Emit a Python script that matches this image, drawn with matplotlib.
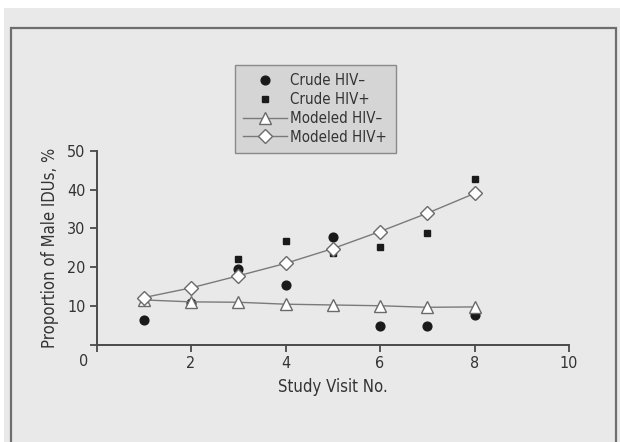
import matplotlib
matplotlib.use("Agg")
import matplotlib.pyplot as plt
import matplotlib.patches as mpatches
import matplotlib.transforms as mtransforms

plt.rcParams['font.family'] = ['DejaVu Sans']
plt.rcParams['font.stretch'] = 'condensed'

visits = [1, 2, 3, 4, 5, 6, 7, 8]
crude_neg = [6.4, 10.8, 19.5, 15.4, 27.7, 5.0, 4.9, 7.8]
crude_pos = [11.1, 10.5, 22.2, 26.7, 23.6, 25.1, 28.9, 42.6]
model_neg = [11.6, 11.1, 11.0, 10.5, 10.3, 10.1, 9.7, 9.8]
model_pos = [12.2, 14.7, 17.8, 21.0, 24.8, 29.2, 33.9, 39.0]

xticks = [0, 2, 4, 6, 8, 10]
yticks = [0, 10, 20, 30, 40, 50]

W, H = 620, 442
fig = plt.figure(figsize=(W / 100, H / 100), dpi=100, facecolor='white')

bg = '#e9e9e9'
txt = '#333333'
grey_line = '#7a7a7a'

# scanned grey page background and frame
fig.patches.append(mpatches.Rectangle((4 / W, 0), 1, 1 - 8 / H, transform=fig.transFigure,
                                      facecolor=bg, edgecolor='none', zorder=-10))
fig.patches.append(mpatches.Rectangle((10.5 / W, -0.05), (616 - 10.5) / W, 1.05 - 28 / H,
                                      transform=fig.transFigure, facecolor='none',
                                      edgecolor='#6e6e6e', linewidth=1.6, zorder=-5))

ax = fig.add_axes([96.5 / W, (H - 345) / H, 472.5 / W, 194.3 / H])
ax.set_facecolor('none')
ax.set_xlim(0, 10)
ax.set_ylim(0, 50)

ax.plot(visits, crude_neg, linestyle='none', marker='o', ms=6.3, color='#1a1a1a',
        label='Crude HIV\u2013', clip_on=False, zorder=3)
ax.plot(visits, crude_pos, linestyle='none', marker='s', ms=5, color='#1a1a1a',
        label='Crude HIV+', clip_on=False, zorder=3)
ax.plot(visits, model_neg, linestyle='-', color=grey_line, lw=1.0, marker='^', ms=8,
        mfc='white', mec='#6a6a6a', mew=1.0, label='Modeled HIV\u2013', clip_on=False, zorder=4)
ax.plot(visits, model_pos, linestyle='-', color=grey_line, lw=1.0, marker='D', ms=7.5,
        mfc='white', mec='#6a6a6a', mew=1.0, label='Modeled HIV+', clip_on=False, zorder=4)

for s in ['top', 'right']:
    ax.spines[s].set_visible(False)
for s in ['left', 'bottom']:
    ax.spines[s].set_color('#4a4a4a')
    ax.spines[s].set_linewidth(1.4)

ax.set_xticks(xticks)
ax.set_xticklabels([''] + [str(v) for v in xticks[1:]])
ax.set_yticks(yticks)
ax.set_yticklabels([''] + [str(v) for v in yticks[1:]])
ax.tick_params(axis='both', direction='out', length=5, width=1.3, color='#4a4a4a',
               labelsize=11.5, labelcolor=txt, pad=3)

off = mtransforms.offset_copy(ax.transData, fig=fig, x=-13, y=-17, units='dots')
ax.text(0, 0, '0', transform=off, ha='center', va='center', fontsize=11.5, color=txt)

ax.set_xlabel('Study Visit No.', fontsize=12, color=txt, labelpad=5)
ax.set_ylabel('Proportion of Male IDUs, %', fontsize=12, color=txt, labelpad=6)

leg = fig.legend(loc='upper left', bbox_to_anchor=(235 / W, 1 - 65 / H),
                 bbox_transform=fig.transFigure, borderaxespad=0, fancybox=False,
                 frameon=True, fontsize=10.8, handlelength=2.9, handletextpad=0.25,
                 labelspacing=0.25, borderpad=0.55, labelcolor=txt)
fr = leg.get_frame()
fr.set_facecolor('#d5d5d5')
fr.set_edgecolor('#8a8a8a')
fr.set_linewidth(1.0)
fr.set_alpha(1)

fig.savefig('out.png', dpi=100, facecolor='white')
